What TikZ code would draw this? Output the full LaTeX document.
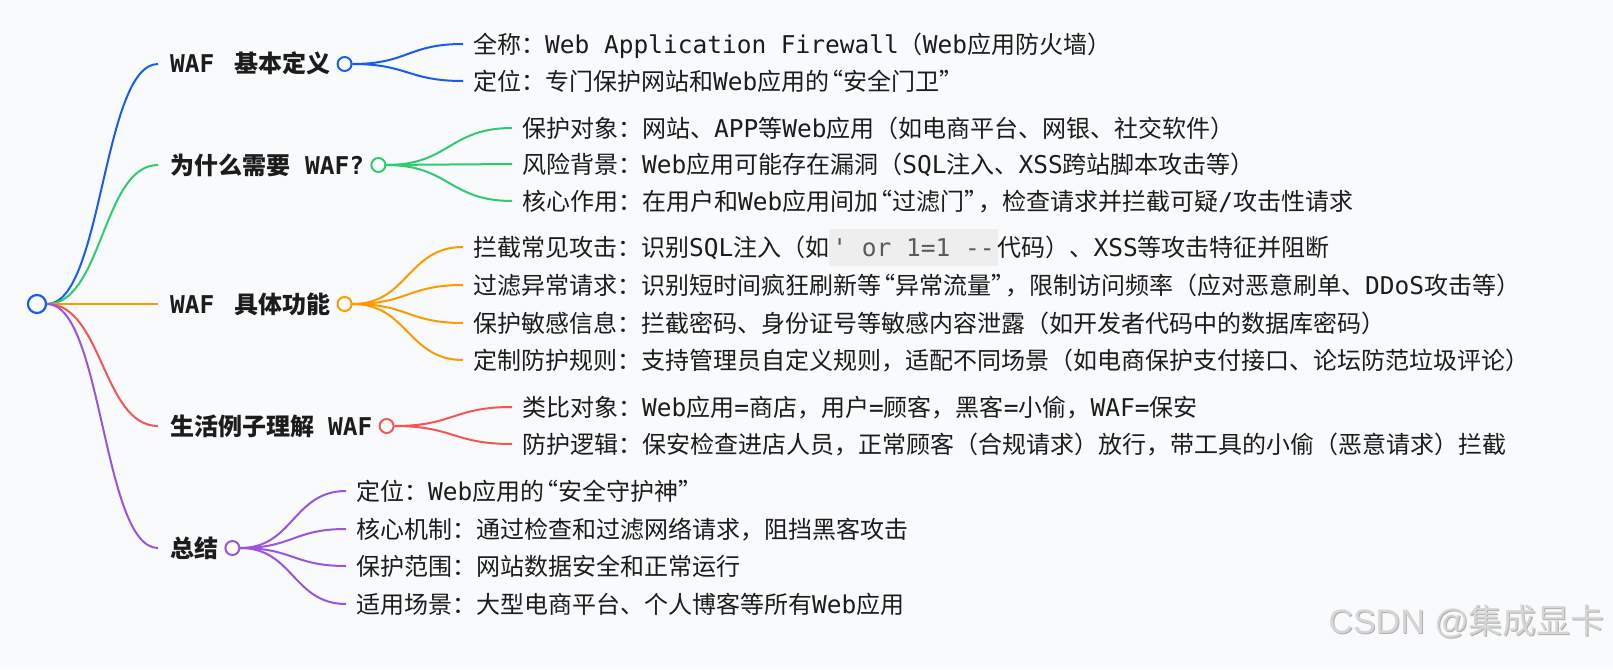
\documentclass[tikz,border=0pt]{standalone}
\usepackage{fontspec}
\usetikzlibrary{calc}
\newfontfamily\latf{DejaVu Sans Mono}[Scale=1.02]
\newfontfamily\cjkf{Noto Sans CJK SC}
\newfontfamily\wmlat{Liberation Sans}
\XeTeXinterchartokenstate=1
\newXeTeXintercharclass\CJKcls
\makeatletter
\def\setcjkrange#1#2{\count@=#1\relax\loop\XeTeXcharclass\count@=\CJKcls\relax\ifnum\count@<#2\relax\advance\count@\@ne\repeat}
\makeatother
\setcjkrange{"4E00}{"9FFF}
\setcjkrange{"3000}{"303F}
\setcjkrange{"FF00}{"FFEF}
\XeTeXcharclass"201C=\CJKcls
\XeTeXcharclass"201D=\CJKcls
\XeTeXinterchartoks 0 \CJKcls = {\cjkf}
\XeTeXinterchartoks 4095 \CJKcls = {\cjkf}
\XeTeXinterchartoks \CJKcls 0 = {\latf}
\XeTeXinterchartoks 4095 0 = {\latf}

\definecolor{cblue}{RGB}{22,93,235}
\definecolor{cgreen}{RGB}{46,204,113}
\definecolor{corange}{RGB}{255,153,0}
\definecolor{cred}{RGB}{245,85,85}
\definecolor{cpurple}{RGB}{153,85,221}
\definecolor{bgc}{RGB}{248,250,252}
\definecolor{txt}{RGB}{28,28,28}
\definecolor{codebg}{RGB}{238,238,238}
\definecolor{codefg}{RGB}{90,90,90}
\definecolor{wmfront}{RGB}{214,214,214}
\definecolor{wmback}{RGB}{175,175,175}

\newcommand\code[1]{{\setlength{\fboxsep}{0pt}\colorbox{codebg}{\rule[-10pt]{0pt}{37pt}\hspace{3pt}\textcolor{codefg}{#1}\hspace{3pt}}}}
\newcommand\oq{\makebox[14pt][r]{“}}
\newcommand\cq{\makebox[14pt][l]{”}}
\newcommand\lk[3]{\draw[lnk=#3] let \p1=(#1), \p2=(#2) in (\p1) .. controls ({(\x1+\x2)/2},\y1) and ({(\x1+\x2)/2},\y2) .. (\p2);}

\tikzset{
  lv1/.style={anchor=west, inner sep=0, text height=21pt, text depth=3pt, font=\fontsize{24}{28}\selectfont\bfseries\latf, text=txt},
  lv2/.style={anchor=west, inner sep=0, text height=21pt, text depth=3pt, font=\fontsize{24}{28}\selectfont\latf, text=txt},
  knob/.style={circle, draw=#1, fill=white, line width=2pt, minimum size=14pt, inner sep=0},
  lnk/.style={draw=#1, line width=2pt},
  wm/.style={anchor=east, inner sep=0, font=\fontsize{34}{38}\selectfont, text=#1},
}

\begin{document}
\begin{tikzpicture}[x=1pt,y=-1pt]
\useasboundingbox (0,0) rectangle (1613,669);
\fill[bgc] (0,0) rectangle (1613,669);

% root
\node[circle, draw=cblue, fill=white, line width=2.2pt, minimum size=18pt, inner sep=0] (r) at (37,304) {};

% level 1
\node[lv1] (t1) at (170,64) {WAF\hspace{20pt}基本定义};
\node[lv1] (t2) at (170,165) {为什么需要\hspace{15pt}WAF?};
\node[lv1] (t3) at (170,304) {WAF\hspace{20pt}具体功能};
\node[lv1] (t4) at (170,426) {生活例子理解\hspace{14pt}WAF};
\node[lv1] (t5) at (170,548) {总结};

\node[knob=cblue] (p1) at ([xshift=14pt]t1.east) {};
\node[knob=cgreen] (p2) at ([xshift=14pt]t2.east) {};
\node[knob=corange] (p3) at ([xshift=14pt]t3.east) {};
\node[knob=cred] (p4) at ([xshift=14pt]t4.east) {};
\node[knob=cpurple] (p5) at ([xshift=14pt]t5.east) {};

% level 2
\node[lv2] (c11) at (473,44) {全称：Web Application Firewall（Web应用防火墙）};
\node[lv2] (c12) at (473,81) {定位：专门保护网站和Web应用的\oq 安全门卫\cq};

\node[lv2] (c21) at (522,128) {保护对象：网站、APP等Web应用（如电商平台、网银、社交软件）};
\node[lv2] (c22) at (522,164) {风险背景：Web应用可能存在漏洞（SQL注入、XSS跨站脚本攻击等）};
\node[lv2] (c23) at (522,201) {核心作用：在用户和Web应用间加\oq 过滤门\cq，检查请求并拦截可疑/攻击性请求};

\node[lv2] (c31) at (473,247) {拦截常见攻击：识别SQL注入（如\code{' or 1=1 --}代码）、XSS等攻击特征并阻断};
\node[lv2] (c32) at (473,285) {过滤异常请求：识别短时间疯狂刷新等\oq 异常流量\cq，限制访问频率（应对恶意刷单、DDoS攻击等）};
\node[lv2] (c33) at (473,323) {保护敏感信息：拦截密码、身份证号等敏感内容泄露（如开发者代码中的数据库密码）};
\node[lv2] (c34) at (473,360) {定制防护规则：支持管理员自定义规则，适配不同场景（如电商保护支付接口、论坛防范垃圾评论）};

\node[lv2] (c41) at (522,407) {类比对象：Web应用=商店，用户=顾客，黑客=小偷，WAF=保安};
\node[lv2] (c42) at (522,444) {防护逻辑：保安检查进店人员，正常顾客（合规请求）放行，带工具的小偷（恶意请求）拦截};

\node[lv2] (c51) at (356,491) {定位：Web应用的\oq 安全守护神\cq};
\node[lv2] (c52) at (356,529) {核心机制：通过检查和过滤网络请求，阻挡黑客攻击};
\node[lv2] (c53) at (356,566) {保护范围：网站数据安全和正常运行};
\node[lv2] (c54) at (356,604) {适用场景：大型电商平台、个人博客等所有Web应用};

% links root -> level 1
\lk{r.east}{[xshift=-12pt]t1.west}{cblue}
\lk{r.east}{[xshift=-12pt]t2.west}{cgreen}
\lk{r.east}{[xshift=-12pt]t3.west}{corange}
\lk{r.east}{[xshift=-12pt]t4.west}{cred}
\lk{r.east}{[xshift=-12pt]t5.west}{cpurple}

% links level 1 -> level 2
\lk{p1.east}{[xshift=-10pt]c11.west}{cblue}
\lk{p1.east}{[xshift=-10pt]c12.west}{cblue}
\lk{p2.east}{[xshift=-10pt]c21.west}{cgreen}
\lk{p2.east}{[xshift=-10pt]c22.west}{cgreen}
\lk{p2.east}{[xshift=-10pt]c23.west}{cgreen}
\lk{p3.east}{[xshift=-10pt]c31.west}{corange}
\lk{p3.east}{[xshift=-10pt]c32.west}{corange}
\lk{p3.east}{[xshift=-10pt]c33.west}{corange}
\lk{p3.east}{[xshift=-10pt]c34.west}{corange}
\lk{p4.east}{[xshift=-10pt]c41.west}{cred}
\lk{p4.east}{[xshift=-10pt]c42.west}{cred}
\lk{p5.east}{[xshift=-10pt]c51.west}{cpurple}
\lk{p5.east}{[xshift=-10pt]c52.west}{cpurple}
\lk{p5.east}{[xshift=-10pt]c53.west}{cpurple}
\lk{p5.east}{[xshift=-10pt]c54.west}{cpurple}

% watermark
\node[wm=wmback] (wms) at (1606,623) {\XeTeXinterchartokenstate=0 \wmlat CSDN @\cjkf 集成显卡};
\node[wm=wmfront] (wmf) at (1605,622) {\XeTeXinterchartokenstate=0 \wmlat CSDN @\cjkf 集成显卡};
\end{tikzpicture}
\end{document}
